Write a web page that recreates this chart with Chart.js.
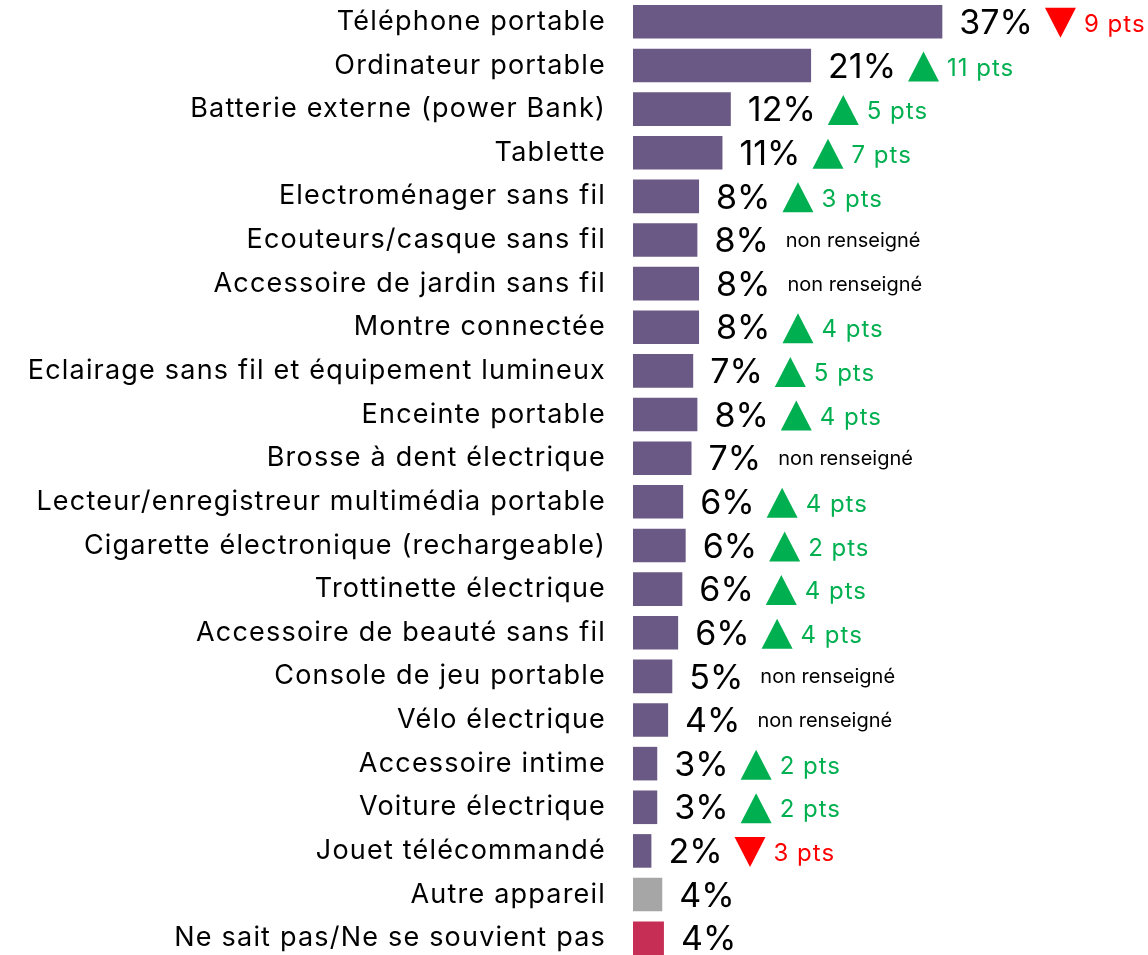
<!DOCTYPE html>
<html><head><meta charset="utf-8">
<script src="https://cdn.jsdelivr.net/npm/chart.js@4.4.0/dist/chart.umd.min.js"></script>
<style>html,body{margin:0;padding:0;background:#fff;overflow:hidden}
#wrap{position:relative;width:1148px;height:960px}</style>
</head><body><div id="wrap"><canvas id="c"></canvas></div>
<script>
const categories = [
  "Téléphone portable","Ordinateur portable","Batterie externe (power Bank)","Tablette",
  "Electroménager sans fil","Ecouteurs/casque sans fil","Accessoire de jardin sans fil",
  "Montre connectée","Eclairage sans fil et équipement lumineux","Enceinte portable",
  "Brosse à dent électrique","Lecteur/enregistreur multimédia portable",
  "Cigarette électronique (rechargeable)","Trottinette électrique","Accessoire de beauté sans fil",
  "Console de jeu portable","Vélo électrique","Accessoire intime","Voiture électrique",
  "Jouet télécommandé","Autre appareil","Ne sait pas/Ne se souvient pas"
];
const values = [37, 21.3, 11.7, 10.7, 7.9, 7.7, 7.9, 7.9, 7.2, 7.7, 7.0, 6.0, 6.3, 5.9, 5.4, 4.7, 4.2, 2.9, 2.9, 2.2, 3.5, 3.7];
const valueLabels = ["37%","21%","12%","11%","8%","8%","8%","8%","7%","8%","7%","6%","6%","6%","6%","5%","4%","3%","3%","2%","4%","4%"];
const changeDirection = ["down","up","up","up","up","","","up","up","up","","up","up","up","up","","","up","up","down","",""];
const changeLabels = ["9 pts","11 pts","5 pts","7 pts","3 pts","non renseigné","non renseigné","4 pts","5 pts","4 pts","non renseigné","4 pts","2 pts","4 pts","4 pts","non renseigné","non renseigné","2 pts","2 pts","3 pts","",""];

const PURPLE = "#6B5985", GREY = "#A6A6A6", CRIMSON = "#C72E55", GREEN = "#00B050", RED = "#FF0000";
const FONT = "Inter";
const barColors = categories.map((c, i) => i === categories.length - 2 ? GREY : (i === categories.length - 1 ? CRIMSON : PURPLE));

const spacingPlugin = {
  id: "spacing",
  beforeDraw(chart) { chart.ctx.letterSpacing = "1.2px"; },
  afterDraw(chart) { chart.ctx.letterSpacing = "0px"; }
};

const labelPlugin = {
  id: "valueLabels",
  afterDatasetsDraw(chart) {
    const ctx = chart.ctx;
    const meta = chart.getDatasetMeta(0);
    ctx.save();
    meta.data.forEach((bar, i) => {
      const y = bar.y;
      let x = bar.x + 17;
      ctx.letterSpacing = "0px";
      ctx.font = `34px ${FONT}`;
      ctx.fillStyle = "#000";
      ctx.textAlign = "left";
      ctx.textBaseline = "middle";
      ctx.fillText(valueLabels[i], x, y + 2);
      x += ctx.measureText(valueLabels[i]).width;
      const dir = changeDirection[i];
      const txt = changeLabels[i];
      if (dir) {
        const col = dir === "up" ? GREEN : RED;
        x += 12;
        const w = 31, h = 30, cy = y + 1;
        ctx.fillStyle = col;
        ctx.beginPath();
        if (dir === "up") {
          ctx.moveTo(x, cy + h / 2); ctx.lineTo(x + w, cy + h / 2); ctx.lineTo(x + w / 2, cy - h / 2);
        } else {
          ctx.moveTo(x, cy - h / 2); ctx.lineTo(x + w, cy - h / 2); ctx.lineTo(x + w / 2, cy + h / 2);
        }
        ctx.closePath(); ctx.fill();
        x += w + 8;
        ctx.font = `24px ${FONT}`;
        ctx.letterSpacing = "1px";
        ctx.fillText(txt, x, y + 3);
      } else if (txt) {
        ctx.font = `20px ${FONT}`;
        ctx.letterSpacing = "0px";
        ctx.fillStyle = "#000";
        ctx.fillText(txt, x + 17, y + 1);
      }
    });
    ctx.restore();
  }
};

new Chart(document.getElementById("c"), {
  type: "bar",
  data: {
    labels: categories,
    datasets: [{ data: values, backgroundColor: barColors, barPercentage: 0.77, categoryPercentage: 1 }]
  },
  options: {
    indexAxis: "y",
    responsive: true,
    maintainAspectRatio: false,
    animation: false,
    layout: { padding: 0 },
    plugins: { legend: { display: false }, tooltip: { enabled: false } },
    scales: {
      x: { display: false, min: 0, max: 61.6 },
      y: {
        grid: { display: false, drawTicks: false },
        border: { display: false },
        afterFit(scale) { scale.width = 633; scale.paddingTop = 0; scale.paddingBottom = 0; },
        ticks: { padding: 27, color: "#000", font: { family: FONT, size: 27 }, autoSkip: false }
      }
    }
  },
  plugins: [spacingPlugin, labelPlugin]
});
</script>
</body></html>
